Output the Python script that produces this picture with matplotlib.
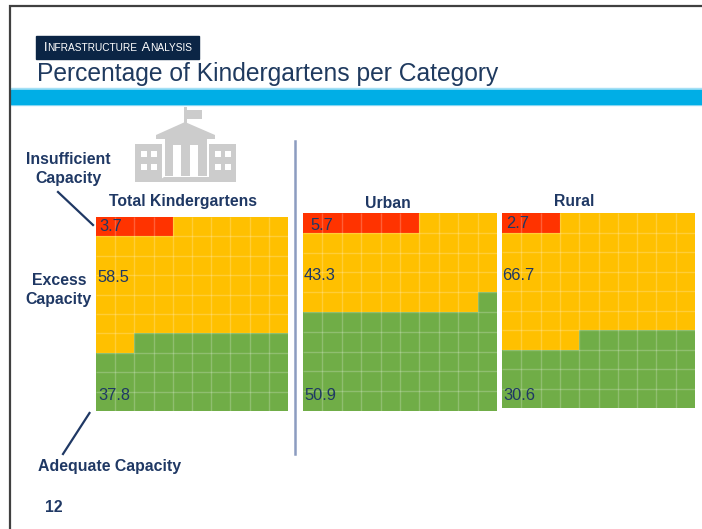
import numpy as np
import matplotlib
matplotlib.use('Agg')
import matplotlib.pyplot as plt
from matplotlib.colors import ListedColormap
from matplotlib.patches import Rectangle, Polygon

W, H = 702, 529
plt.rcParams['font.family'] = ['Liberation Sans', 'DejaVu Sans']

# Data
panels = ['Total Kindergartens', 'Urban', 'Rural']
insufficient = [3.7, 5.7, 2.7]
excess = [58.5, 43.3, 66.7]
adequate = [37.8, 50.9, 30.6]
# squares actually coloured in each 10x10 grid
red_cells = [4, 6, 3]
yellow_cells = [58, 43, 61]
green_cells = [38, 51, 36]

NAVY = '#1F3864'
cmap = ListedColormap(['#FF3300', '#FFC000', '#70AD47'])

fig = plt.figure(figsize=(W / 100, H / 100), dpi=100)
bg = fig.add_axes([0, 0, 1, 1])
bg.set_xlim(0, W)
bg.set_ylim(H, 0)
bg.axis('off')


def label(x, y, s, **kw):
    kw.setdefault('color', NAVY)
    kw.setdefault('va', 'center')
    return bg.text(x, y, s, zorder=10, **kw)


# slide frame and header
bg.plot([10, 10, W], [H, 5.5, 5.5], color='#404040', lw=1.6, solid_joinstyle='miter')
bg.add_patch(Rectangle((36, 36), 163, 23, color='#0B2545'))
bg.add_patch(Rectangle((11, 88), W - 11, 17, color='#A5E0F5'))
bg.add_patch(Rectangle((11, 89.5), W - 11, 14, color='#00AEE6'))
label(37, 74, 'Percentage of Kindergartens per Category', fontsize=17.7, color='#1F3A5F')

# small caps heading, one piece after the other
fig.canvas.draw()
rend = fig.canvas.get_renderer()
x = 44
for piece, size in [('I', 9.3), ('NFRASTRUCTURE', 7.3), ('\u00a0A', 9.3), ('NALYSIS', 7.3)]:
    t = label(x, 48, piece, fontsize=size, color='white', va='center')
    x += t.get_window_extent(rend).width

# school icon
grey = '#CCCCCC'
for wx in [135, 209]:
    bg.add_patch(Rectangle((wx, 144), 27, 38, color=grey, lw=0))
    for dx in [6, 16]:
        for dy in [7, 20]:
            bg.add_patch(Rectangle((wx + dx, 144 + dy), 6, 6, color='white', lw=0))
bg.add_patch(Rectangle((165, 138), 42, 38, color=grey, lw=0))
for dx in [173, 190]:
    bg.add_patch(Rectangle((dx, 145), 8, 31, color='white', lw=0))
bg.add_patch(Polygon([(156, 139), (156, 135), (185, 122), (215, 135), (215, 139)], color=grey, lw=0))
bg.add_patch(Rectangle((183.5, 107), 3, 16, color=grey, lw=0))
bg.add_patch(Rectangle((186.5, 110), 15, 9, color=grey, lw=0))
bg.add_patch(Polygon([(157, 182), (164, 177), (210, 177), (217, 182)], color=grey, lw=0))

# divider and callout lines
bg.plot([295, 295], [141, 454], color='#8C9CC0', lw=1.8)
bg.plot([58, 93], [192, 225], color=NAVY, lw=1.6)
bg.plot([89.5, 63], [413, 454], color=NAVY, lw=1.6)

# waffle panels
boxes = [(96, 217, 192, 194), (303, 213, 194, 198), (502, 213, 193, 195)]
for i, (bx, by, bw, bh) in enumerate(boxes):
    cells = np.repeat([0, 1, 2], [red_cells[i], yellow_cells[i], green_cells[i]]).reshape(10, 10)
    ax = fig.add_axes([bx / W, 1 - (by + bh) / H, bw / W, bh / H])
    ax.pcolormesh(cells, cmap=cmap, vmin=0, vmax=2, linewidth=0, antialiased=False)
    ax.hlines(range(1, 10), 0, 10, color='white', alpha=0.22, lw=1)
    ax.vlines(range(1, 10), 0, 10, color='white', alpha=0.22, lw=1)
    ax.set_xlim(0, 10)
    ax.set_ylim(10, 0)
    ax.axis('off')

# panel headings and values
head_pos = [(183.5, 201), (387.5, 204), (574.5, 201)]
red_pos = [(99, 226), (310, 225), (506, 224)]
yellow_pos = [(97, 277), (304, 276), (502, 275)]
green_pos = [(98, 396), (304, 396), (503, 396)]
for i in range(3):
    fig.text(head_pos[i][0] / W, 1 - head_pos[i][1] / H, panels[i], fontsize=11.3,
             fontweight='bold', color=NAVY, ha='center', va='center')
    for pos, vals in [(red_pos, insufficient), (yellow_pos, excess), (green_pos, adequate)]:
        fig.text(pos[i][0] / W, 1 - pos[i][1] / H, f'{vals[i]}', fontsize=11.8, color=NAVY,
                 ha='left', va='center')

# side labels
label(68, 169, 'Insufficient\nCapacity', fontsize=11.4, fontweight='bold', ha='center', linespacing=1.32)
label(59, 290, 'Excess\nCapacity', fontsize=11.4, fontweight='bold', ha='center', linespacing=1.32)
label(38, 467, 'Adequate Capacity', fontsize=11.4, fontweight='bold')
label(45, 508, '12', fontsize=11.4, fontweight='bold')

fig.savefig('out.png', dpi=100)
